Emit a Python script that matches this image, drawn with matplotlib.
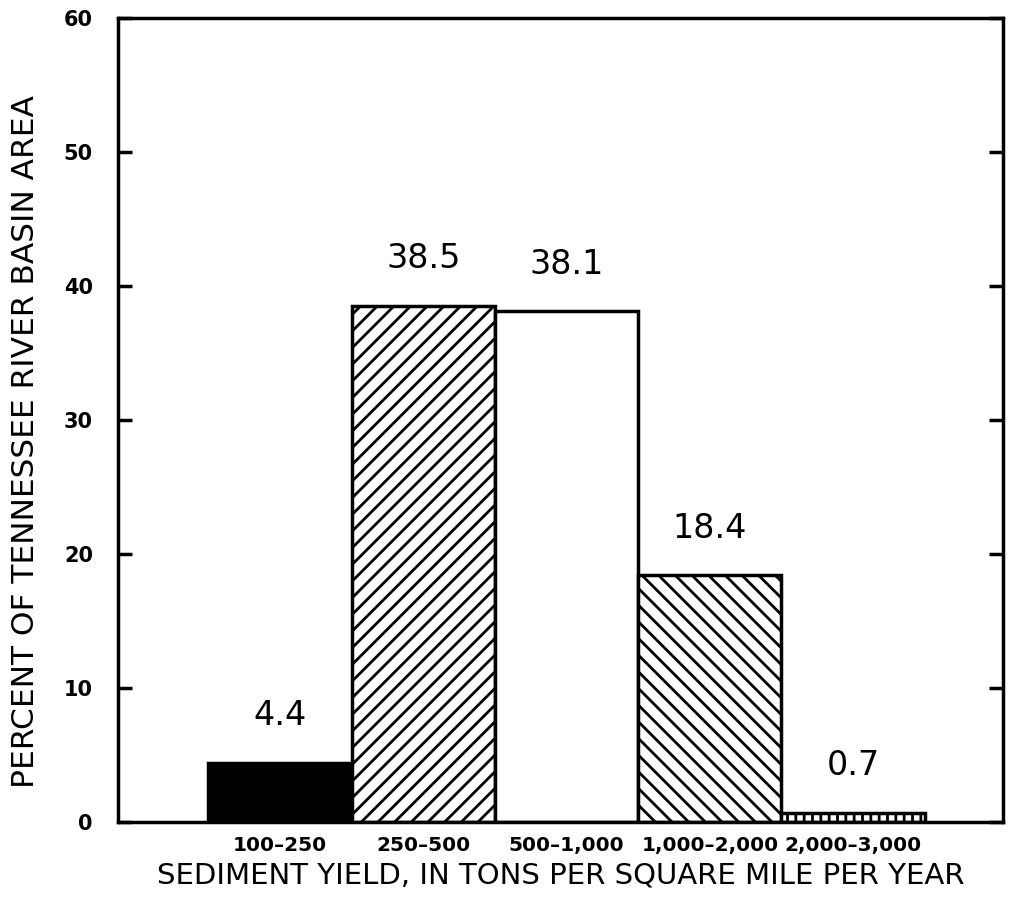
import matplotlib.pyplot as plt
import numpy as np

plt.rcParams['hatch.linewidth'] = 2.0

categories = ['100\u2013250', '250\u2013500', '500\u20131,000', '1,000\u20132,000', '2,000\u20133,000']
values = [4.4, 38.5, 38.1, 18.4, 0.7]
value_labels = ['4.4', '38.5', '38.1', '18.4', '0.7']
faces = ['black', 'white', 'white', 'white', 'white']
hatches = [None, '//', None, '\\\\', '||']

fig = plt.figure(figsize=(10.12, 9.09), dpi=100)
ax = fig.add_axes([0.1166, 0.0957, 0.875, 0.885])

x = np.arange(len(categories))
for xi, v, fc, h in zip(x, values, faces, hatches):
    ax.bar(xi, v, width=1.0, facecolor=fc, edgecolor='black', linewidth=2.5, hatch=h)

for xi, v, lab in zip(x, values, value_labels):
    ax.annotate(lab, (xi, v), xytext=(0, 22), textcoords='offset points',
                ha='center', va='bottom', fontsize=24)

ax.set_xlim(-1.13, 5.05)
ax.set_ylim(0, 60)
ax.set_yticks([0, 10, 20, 30, 40, 50, 60])
ax.set_xticks(x)
ax.set_xticklabels(categories, fontsize=14.5, fontweight='bold')
ax.tick_params(axis='x', length=0, pad=10)
ax.tick_params(axis='y', direction='in', length=10, width=2.5, right=True,
               labelsize=15, pad=18)
for t in ax.get_yticklabels():
    t.set_fontweight('bold')
for s in ax.spines.values():
    s.set_linewidth(2.5)

ax.set_xlabel('SEDIMENT YIELD, IN TONS PER SQUARE MILE PER YEAR', fontsize=21, labelpad=5)
ax.set_ylabel('PERCENT OF TENNESSEE RIVER BASIN AREA', fontsize=22.5)
ax.yaxis.set_label_coords(-0.088, 0.473)

plt.savefig('out.png', dpi=100)
